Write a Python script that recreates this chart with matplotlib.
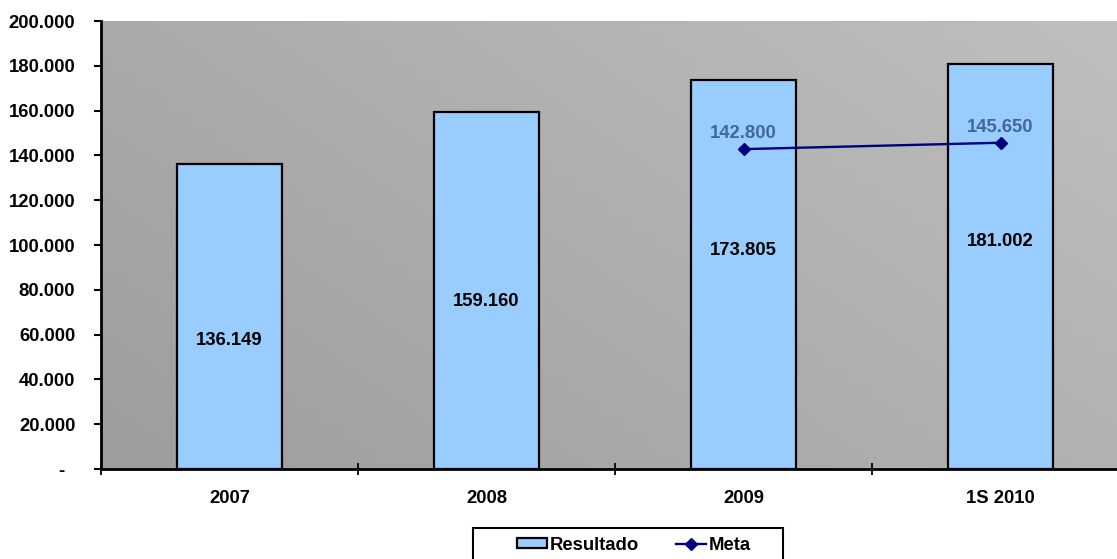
import matplotlib
matplotlib.use("Agg")
import matplotlib.pyplot as plt
import numpy as np
from matplotlib.patches import Rectangle, Patch
from matplotlib.lines import Line2D

categories = ["2007", "2008", "2009", "1S 2010"]
resultado = [136149, 159160, 173805, 181002]
meta_idx = [2, 3]
meta = [142800, 145650]
yticks = [0, 20000, 40000, 60000, 80000, 100000, 120000, 140000, 160000, 180000, 200000]
ytick_labels = ["-  ", "20.000", "40.000", "60.000", "80.000", "100.000", "120.000",
                "140.000", "160.000", "180.000", "200.000"]
label_frac = [0.42, 0.47, 0.56, 0.56]  # vertical position of value labels within bars

def fmt(v):
    return f"{v:,}".replace(",", ".")

plt.rcParams['font.family'] = ['Liberation Sans', 'DejaVu Sans']
FS = 13.3

fig = plt.figure(figsize=(11.17, 5.59), dpi=100)
ax = fig.add_axes([101/1117, 90/559, 1028/1117, 448/559])

# gradient background
nx, ny = 200, 200
xx, yy = np.meshgrid(np.linspace(0, 1, nx), np.linspace(0, 1, ny))
val = (157 + 21*xx + 13*yy) / 255.0
img = np.dstack([val, val, val])
ax.imshow(img, extent=[0, 1, 0, 1], transform=ax.transAxes, origin='lower',
          aspect='auto', zorder=0, interpolation='bilinear')

x = np.arange(len(categories))
ax.bar(x, resultado, width=0.405, color='#99CCFF', edgecolor='black', linewidth=1.6, zorder=2)
ax.plot(meta_idx, meta, color='#000080', linewidth=1.7, marker='D', markersize=6.5, zorder=3)

for xi, v, f in zip(x, resultado, label_frac):
    ax.text(xi, v*f, fmt(v), ha='center', va='center', fontsize=FS, fontweight='bold',
            color='black', zorder=4)
for xi, v in zip(meta_idx, meta):
    ax.annotate(fmt(v), (xi, v), xytext=(0, 5), textcoords='offset points',
                ha='center', va='bottom', fontsize=FS, fontweight='bold',
                color='#41679A', zorder=4)

ax.set_xlim(-0.5, 3.5)
ax.set_ylim(0, 200000)
ax.set_yticks(yticks)
ax.set_yticklabels(ytick_labels, fontsize=FS, fontweight='bold')
ax.tick_params(axis='y', direction='out', length=5, width=1.5, pad=13.5)

ax.set_xticks(np.arange(-0.5, 3.6, 1.0))
ax.set_xticklabels([])
ax.tick_params(axis='x', which='major', direction='inout', length=9, width=1.3)
ax.set_xticks(x, minor=True)
ax.set_xticklabels(categories, minor=True, fontsize=FS, fontweight='bold')
ax.tick_params(axis='x', which='minor', length=0, pad=15)

for s in ['top', 'right']:
    ax.spines[s].set_visible(False)
for s in ['left', 'bottom']:
    ax.spines[s].set_linewidth(2)
    ax.spines[s].set_zorder(5)

# legend
fig.patches.append(Rectangle((473/1117, -0.05), (783-473)/1117, (559-528)/559 + 0.05,
                             transform=fig.transFigure, facecolor='white',
                             edgecolor='black', linewidth=1.5, zorder=1))
handles = [Patch(facecolor='#99CCFF', edgecolor='black', linewidth=1.6, label='Resultado'),
           Line2D([], [], color='#000080', linewidth=1.7, marker='D', markersize=6.5, label='Meta')]
leg = fig.legend(handles=handles, loc='center left',
                 bbox_to_anchor=(517/1117, 1 - 545/559), ncol=2, frameon=False,
                 prop={'size': FS, 'weight': 'bold'}, handlelength=1.6, handleheight=0.45,
                 handletextpad=0.15, columnspacing=2.05, borderpad=0, borderaxespad=0)
leg.set_zorder(3)

fig.savefig("out.png", dpi=100)
